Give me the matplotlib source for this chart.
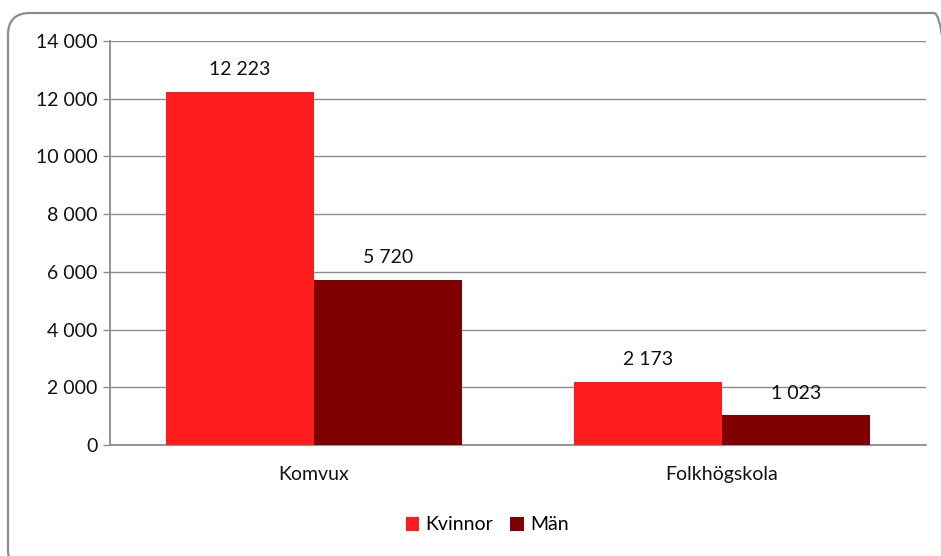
import matplotlib
matplotlib.use("Agg")
import matplotlib.pyplot as plt
from matplotlib.patches import FancyBboxPatch
from matplotlib.ticker import FuncFormatter
import numpy as np

categories = ["Komvux", "Folkhögskola"]
kvinnor = [12223, 2173]
man = [5720, 1023]
series_names = ["Kvinnor", "Män"]
yticks = [0, 2000, 4000, 6000, 8000, 10000, 12000, 14000]

plt.rcParams['font.family'] = ['Lato', 'DejaVu Sans']

W, H = 941, 556
FS = 14
TXT = '#111111'
fig = plt.figure(figsize=(W/100, H/100), dpi=100)

# rounded outer frame (extends past right/bottom edges, as in the reference)
x0, y0, x1, y1 = 8, 13, 956, 572
box = FancyBboxPatch((x0/W, (H-y1)/H), (x1-x0)/W, (y1-y0)/H,
                     boxstyle="round,pad=0,rounding_size=%f" % (22/W),
                     transform=fig.transFigure, facecolor='none',
                     edgecolor='#8c8c8c', linewidth=1.6, mutation_aspect=W/H,
                     zorder=-1)
fig.patches.append(box)

ax = fig.add_axes([110/W, (H-445)/H, (926-110)/W, (445-41)/H])
ax.set_facecolor('none')

x = np.arange(len(categories))
bw = 148/408
c1, c2 = '#FF1C1C', '#800000'
b1 = ax.bar(x - bw/2, kvinnor, bw, color=c1, label=series_names[0], zorder=3)
b2 = ax.bar(x + bw/2, man, bw, color=c2, label=series_names[1], zorder=3)

fmt = lambda v: f"{int(v):,}".replace(",", " ")
for bars, vals in ((b1, kvinnor), (b2, man)):
    for r, v in zip(bars, vals):
        ax.annotate(fmt(v), (r.get_x() + r.get_width()/2, v),
                    xytext=(0, 10), textcoords='offset points',
                    ha='center', va='bottom', fontsize=FS, color=TXT)

ax.set_xlim(-0.5, 1.5)
ax.set_ylim(0, 14000)
ax.set_yticks(yticks)
ax.yaxis.set_major_formatter(FuncFormatter(lambda v, p: fmt(v)))
ax.set_xticks(x)
ax.set_xticklabels(categories)
ax.tick_params(axis='x', length=0, pad=15, labelsize=FS, labelcolor=TXT)
ax.tick_params(axis='y', length=5, width=1, color='#8c8c8c', pad=4,
               labelsize=FS, labelcolor=TXT)
ax.grid(axis='y', color='#8c8c8c', linewidth=1, zorder=0)
for s in ['top', 'right']:
    ax.spines[s].set_visible(False)
for s in ['left', 'bottom']:
    ax.spines[s].set_color('#8c8c8c')
    ax.spines[s].set_linewidth(1.3)

fig.legend(handles=[b1, b2], labels=series_names, loc='center',
           bbox_to_anchor=(487/W, (H-525)/H), ncol=2, frameon=False,
           fontsize=FS, handlelength=0.7, handleheight=0.7,
           handletextpad=0.3, columnspacing=0.9)

fig.savefig("out.png", dpi=100)
